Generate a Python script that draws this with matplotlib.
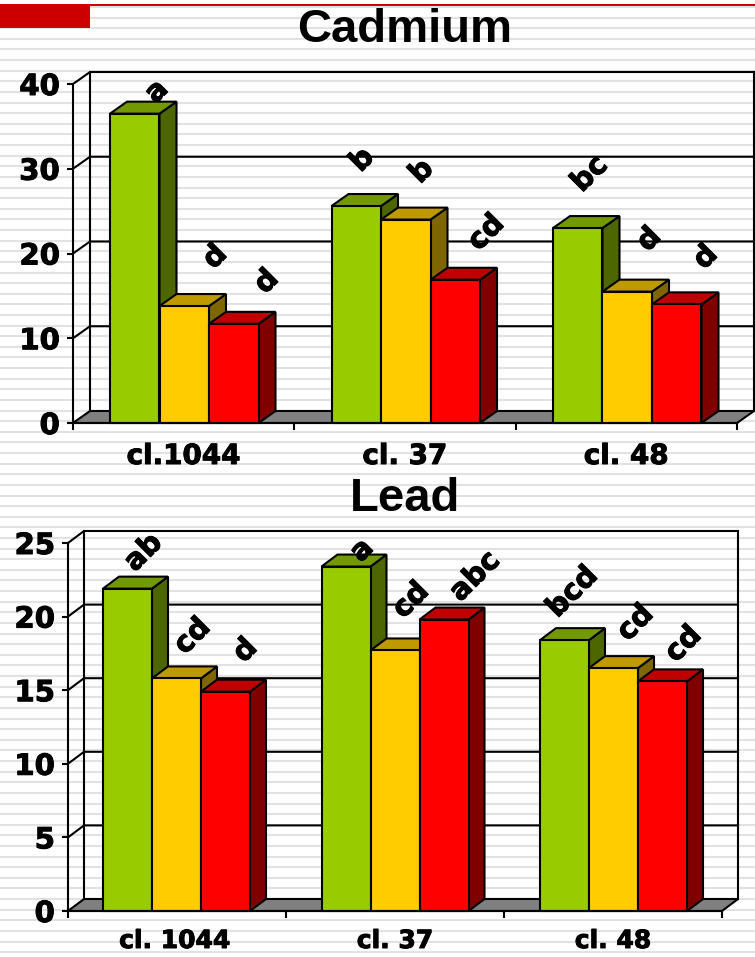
import matplotlib
matplotlib.use("Agg")
import matplotlib.pyplot as plt
import matplotlib.patheffects as pe
from matplotlib.lines import Line2D
from matplotlib.patches import Rectangle

W, H = 755, 957

# ---- data ----
cd_categories = ["cl.1044", "cl. 37", "cl. 48"]
cd_green = [36.5, 25.6, 23.0]
cd_yellow = [13.8, 24.0, 15.5]
cd_red = [11.7, 16.9, 14.0]
cd_letters = [["a", "d", "d"], ["b", "b", "cd"], ["bc", "d", "d"]]
cd_yticks = [0, 10, 20, 30, 40]

pb_categories = ["cl. 1044", "cl. 37", "cl. 48"]
pb_green = [21.9, 23.4, 18.4]
pb_yellow = [15.8, 17.7, 16.5]
pb_red = [14.9, 19.8, 15.6]
pb_letters = [["ab", "cd", "d"], ["a", "cd", "abc"], ["bcd", "cd", "cd"]]
pb_yticks = [0, 5, 10, 15, 20, 25]

# ---- style ----
FRONT = ["#99CC00", "#FFCC00", "#FF0000"]
TOP = ["#739900", "#BF9900", "#BF0000"]
SIDE = ["#4D6600", "#806600", "#800000"]
EDGE = "black"
LW = 1.5
HEAVY = [pe.withStroke(linewidth=0.7, foreground="black")]

# label offsets from top-centre of each bar's front face, in pixels
cd_off = [[(22, 22), (31, 49), (33, 42)],
          [(6, 46), (16, 48), (31, 47)],
          [(12, 54), (22, 52), (29, 47)]]
pb_off = [[(16, 36), (16, 42), (20, 41)],
          [(16, 16), (16, 50), (31, 43)],
          [(8, 48), (22, 45), (21, 37)]]

fig = plt.figure(figsize=(W / 100, H / 100), dpi=100, facecolor="white")

# striped slide background
y = 7.0
while y < H:
    fig.add_artist(Line2D([0, 1], [1 - y / H, 1 - y / H], color="#E2E2E2", lw=1.5, zorder=-5))
    y += 10.62
fig.add_artist(Rectangle((0, 1 - 6 / H), 1, 2 / H, color="#CC0000", lw=0, zorder=-1))
fig.add_artist(Rectangle((0, 1 - 28 / H), 90 / W, 23 / H, color="#CC0000", lw=0, zorder=-1))


def chart(left, right, y_top, y_bot, ddx, ddy, yticks, cats, series, letters, offs,
          bar_px, first_px, group_px, title, title_y, xlab_y, xfs, xshift):
    ax = fig.add_axes([left / W, 1 - y_bot / H, (right - left) / W, (y_bot - y_top) / H])
    ax.patch.set_visible(False)
    ymax = yticks[-1]
    ax.set_xlim(-0.5, 2.5)
    ax.set_ylim(0, ymax)
    ux = 3 / (right - left)
    uy = ymax / (y_bot - y_top)
    dx, dy = ddx * ux, ddy * uy

    # floor, back wall, grid
    ax.fill([-0.5, 2.5, 2.5 + dx, -0.5 + dx], [0, 0, dy, dy], fc="#808080", ec=EDGE, lw=LW,
            clip_on=False, zorder=1)
    for t in yticks[1:]:
        ax.plot([-0.5, -0.5 + dx, 2.5 + dx], [t, t + dy, t + dy], color=EDGE, lw=LW,
                clip_on=False, zorder=1)
    ax.plot([-0.5 + dx] * 2, [dy, ymax + dy], color=EDGE, lw=LW, clip_on=False, zorder=1)
    ax.plot([2.5 + dx] * 2, [dy, ymax + dy], color=EDGE, lw=LW, clip_on=False, zorder=1)

    w = bar_px * ux
    z = 2
    for g in range(3):
        for s in range(3):
            v = series[s][g]
            x0 = (first_px + g * group_px + s * bar_px - left) * ux - 0.5
            x1 = x0 + w
            ax.fill([x1, x1 + dx, x1 + dx, x1], [0, dy, v + dy, v], fc=SIDE[s], ec=EDGE, lw=LW,
                    clip_on=False, zorder=z)
            ax.fill([x0, x1, x1 + dx, x0 + dx], [v, v, v + dy, v + dy], fc=TOP[s], ec=EDGE, lw=LW,
                    clip_on=False, zorder=z)
            ax.bar(x0, v, width=w, align="edge", fc=FRONT[s], ec=EDGE, lw=LW, clip_on=False, zorder=z)
            z += 1
            ox, oy = offs[g][s]
            ax.annotate(letters[g][s], (x0 + w / 2, v), xytext=(ox * 0.72, oy * 0.72),
                        textcoords="offset points", rotation=45, ha="center", va="center",
                        fontsize=21, fontweight="bold", family="DejaVu Sans", zorder=50,
                        annotation_clip=False, path_effects=HEAVY)

    for sp in ("top", "right"):
        ax.spines[sp].set_visible(False)
    for sp in ("left", "bottom"):
        ax.spines[sp].set_linewidth(LW)
        ax.spines[sp].set_zorder(40)
    ax.set_yticks(yticks)
    ax.set_yticklabels([str(t) for t in yticks], fontsize=21, fontweight="bold", family="DejaVu Sans",
                       path_effects=HEAVY)
    ax.tick_params(axis="y", length=4.5, width=LW, pad=5)
    ax.set_xticks([-0.5, 0.5, 1.5, 2.5])
    ax.set_xticklabels([""] * 4)
    ax.tick_params(axis="x", length=5, width=LW)
    yfrac = -(xlab_y - y_bot) / (y_bot - y_top)
    for i, c in enumerate(cats):
        ax.text(i + (xshift if i == 0 else 0), yfrac, c, transform=ax.get_xaxis_transform(),
                fontsize=xfs, fontweight="bold", family="DejaVu Sans", ha="center", va="center",
                clip_on=False, path_effects=HEAVY)
    fig.text(405 / W, 1 - title_y / H, title, fontsize=34, fontweight="bold",
             family="Liberation Sans", ha="center", va="center")


chart(73, 737, 84, 423, 17, 12, cd_yticks, cd_categories, [cd_green, cd_yellow, cd_red],
      cd_letters, cd_off, 49.5, 110, 221.5, "Cadmium", 30, 456, 20, 0.0)
chart(68, 722, 543, 911, 16, 12, pb_yticks, pb_categories, [pb_green, pb_yellow, pb_red],
      pb_letters, pb_off, 49, 103, 218.5, "Lead", 499, 941, 18, -0.01)

fig.savefig("out.png", dpi=100, facecolor="white")
